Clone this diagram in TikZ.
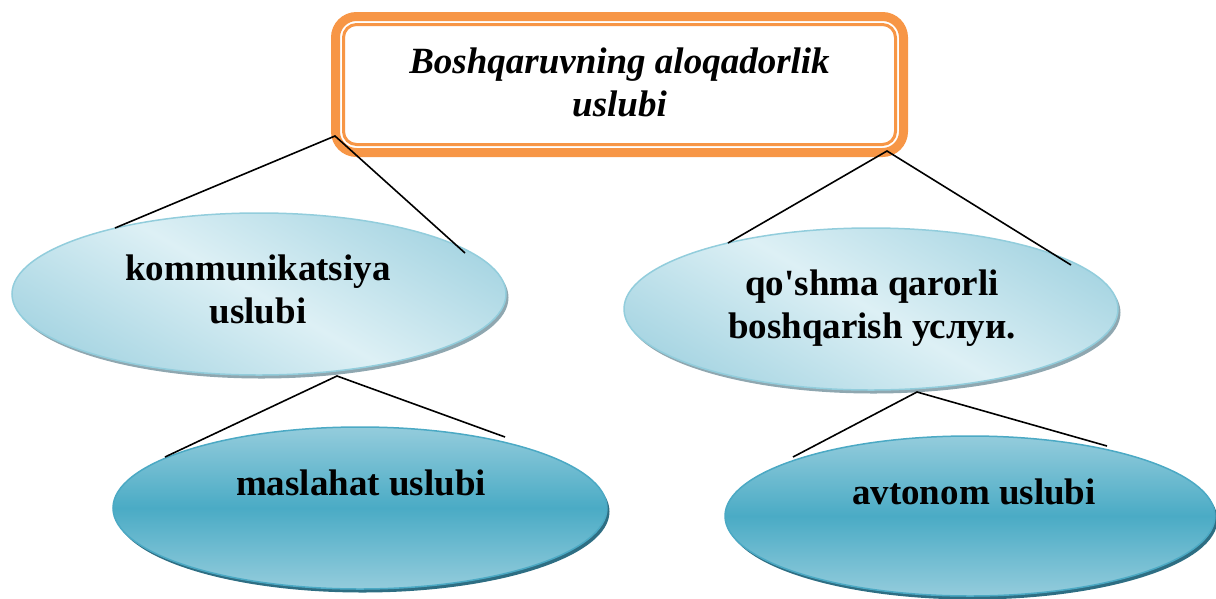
\documentclass[tikz,border=0pt]{standalone}
\usepackage{fontspec}
\setmainfont{Liberation Serif}
\usetikzlibrary{shapes.geometric,shadows}
\definecolor{orng}{HTML}{F79646}
\definecolor{lbdark}{HTML}{A9D6E3}
\definecolor{lblight}{HTML}{DDF0F5}
\definecolor{lbborder}{HTML}{92CDDC}
\definecolor{lbshadow}{HTML}{8FA7B0}
\definecolor{dbtop}{HTML}{94CCDC}
\definecolor{dbmid}{HTML}{4AABC5}
\definecolor{dbborder}{HTML}{4BA9C4}
\definecolor{dbshadow}{HTML}{2E6E83}
\begin{document}
\begin{tikzpicture}[x=1pt,y=-1pt,
  txt/.style={font=\fontsize{37}{43}\selectfont\bfseries, align=center, inner sep=0pt},
  ellbase/.style={ellipse, minimum width=494pt, minimum height=162pt, inner sep=0pt, outer sep=0pt, line width=1.5pt},
  upell/.style={ellbase, draw=lbborder, top color=lbdark, bottom color=lbdark, middle color=lblight, shading angle=-30,
     drop shadow={shadow xshift=2.5pt, shadow yshift=-3.5pt, fill=lbshadow, opacity=1}},
  lowell/.style={ellbase, draw=dbborder, top color=dbtop, bottom color=dbtop, middle color=dbmid,
     drop shadow={shadow xshift=2.5pt, shadow yshift=-3.5pt, fill=dbshadow, opacity=1}},
  headbox/.style={draw=orng, line width=9pt, rounded corners=21pt, minimum width=568pt, minimum height=136pt, fill=white, inner sep=0pt, outer sep=0pt},
  conn/.style={draw=black, line width=1.6pt}
]
\useasboundingbox (0,0) rectangle (1216,598);

% top box
\node[headbox] (top) at (619.5,84.5) {};
\draw[orng, line width=3pt, rounded corners=13pt] ([shift={(8,8)}]top.north west) rectangle ([shift={(-8,-8)}]top.south east);

% ellipses
\node[upell] (e1) at (259,294) {};
\node[upell] (e2) at (871,309) {};
\node[lowell] (e3) at (360,508) {};
\node[lowell, minimum width=490pt, minimum height=160pt] (e4) at (970,516) {};

% connector points
\coordinate (topL) at (335,136);
\coordinate (topR) at (887,151);
\coordinate (e1a) at (115,228);
\coordinate (e1b) at (465,253);
\coordinate (e2a) at (728,243);
\coordinate (e2b) at (1071,265);
\coordinate (e1bot) at (337,376);
\coordinate (e3a) at (165,457);
\coordinate (e3b) at (505,437);
\coordinate (e2bot) at (917,392);
\coordinate (e4a) at (793,457);
\coordinate (e4b) at (1107,446);

\draw[conn] (e1a) -- (topL) -- (e1b);
\draw[conn] (e2a) -- (topR) -- (e2b);
\draw[conn] (e3a) -- (e1bot) -- (e3b);
\draw[conn] (e4a) -- (e2bot) -- (e4b);

% texts
\node[txt, font=\fontsize{37}{43}\selectfont\bfseries\itshape] (ttop) at (619.5,82.5) {Boshqaruvning aloqadorlik\\uslubi};
\node[txt] (t1) at (258,289) {kommunikatsiya\\uslubi};
\node[txt] (t2) at (872,308) {qo\textquotesingle shma qarorli\\boshqarish услуи.};
\node[txt] (t3) at (361,482.5) {maslahat uslubi};
\node[txt] (t4) at (974,491.5) {avtonom uslubi};
\end{tikzpicture}
\end{document}
